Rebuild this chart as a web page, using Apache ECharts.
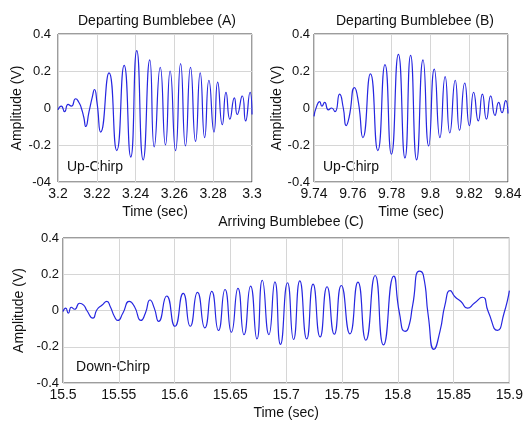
<!DOCTYPE html>
<html><head><meta charset="utf-8">
<script src="https://cdn.jsdelivr.net/npm/echarts@6/dist/echarts.min.js"></script>
<style>html,body{margin:0;padding:0;background:#fff}#c{width:526px;height:421px}</style>
</head><body><div id="c"></div>
<script>
// ---- Panel A: Departing Bumblebee (A) ----
const timeA = [3.2000,3.2017,3.2034,3.2052,3.2069,3.2091,3.2108,3.2120,3.2133,3.2143,3.2160,3.2177,3.2188,3.2201,3.2220,3.2263,3.2303,3.2341,3.2375,3.2406,3.2439,3.2473,3.2496,3.2527,3.2554,3.2578,3.2606,3.2632,3.2657,3.2683,3.2709,3.2733,3.2756,3.2778,3.2804,3.2823,3.2847,3.2866,3.2886,3.2909,3.2924,3.2950,3.2967,3.2990,3.3000];
const ampA = [-0.01,0.01,-0.02,0.02,0.01,0.05,0.03,0.0,-0.05,-0.10,-0.02,0.06,0.10,0.03,-0.13,0.19,-0.23,0.23,-0.265,0.31,-0.28,0.26,-0.21,0.22,-0.20,0.20,-0.23,0.24,-0.205,0.22,-0.18,0.19,-0.16,0.15,-0.13,0.14,-0.09,0.085,-0.06,0.055,-0.035,0.065,-0.07,0.085,-0.035];
const xTicksA = ['3.2','3.22','3.24','3.26','3.28','3.3'];
const yTicksA = ['-04','-0.2','0','0.2','0.4'];

// ---- Panel B: Departing Bumblebee (B) ----
const timeB = [9.7400,9.7414,9.7429,9.7441,9.7455,9.7474,9.7491,9.7508,9.7532,9.7551,9.7566,9.7581,9.7609,9.7629,9.7652,9.7691,9.7729,9.7766,9.7799,9.7835,9.7869,9.7898,9.7929,9.7962,9.7991,9.8020,9.8049,9.8076,9.8100,9.8128,9.8150,9.8177,9.8201,9.8223,9.8247,9.8268,9.8289,9.8311,9.8333,9.8352,9.8369,9.8388,9.8400];
const ampB = [-0.045,0.01,0.035,0.01,0.03,-0.01,0.0,-0.02,0.075,0.0,-0.095,-0.05,0.11,0.03,-0.16,0.185,-0.23,0.235,-0.25,0.29,-0.27,0.285,-0.28,0.26,-0.205,0.21,-0.16,0.17,-0.135,0.15,-0.12,0.135,-0.095,0.085,-0.07,0.075,-0.06,0.065,-0.04,0.03,-0.025,0.04,-0.03];
const xTicksB = ['9.74','9.76','9.78','9.8','9.82','9.84'];
const yTicksB = ['-0.4','-0.2','0','0.2','0.4'];

// ---- Panel C: Arriving Bumblebee (C) ----
const timeC = [15.5000,15.5024,15.5048,15.5074,15.5104,15.5149,15.5185,15.5214,15.5268,15.5304,15.5351,15.5393,15.5423,15.5461,15.5491,15.5536,15.5595,15.5640,15.5699,15.5738,15.5780,15.5818,15.5857,15.5929,15.6003,15.6077,15.6140,15.6205,15.6271,15.6333,15.6393,15.6452,15.6509,15.6568,15.6622,15.6681,15.6738,15.6786,15.6845,15.6899,15.6949,15.7012,15.7066,15.7122,15.7184,15.7241,15.7304,15.7366,15.7431,15.7494,15.7571,15.7643,15.7714,15.7797,15.7872,15.7964,15.8015,15.8065,15.8095,15.8134,15.8193,15.8229,15.8274,15.8324,15.8378,15.8423,15.8470,15.8512,15.8566,15.8625,15.8685,15.8759,15.8810,15.8893,15.8952,15.9000];
const ampC = [-0.005,0.013,-0.015,0.018,0.007,0.04,0.03,0.0,-0.042,0.004,0.03,0.05,0.022,-0.033,-0.055,-0.015,0.05,0.022,-0.055,-0.015,0.058,0.013,-0.06,0.08,-0.087,0.095,-0.087,0.10,-0.096,0.105,-0.11,0.116,-0.12,0.122,-0.133,0.135,-0.157,0.167,-0.133,0.158,-0.187,0.153,-0.16,0.164,-0.157,0.146,-0.146,0.131,-0.131,0.138,-0.129,0.157,-0.164,0.193,-0.19,0.19,-0.015,-0.115,-0.096,0.031,0.217,0.195,-0.033,-0.215,-0.115,0.031,0.11,0.076,0.05,0.013,0.04,0.073,-0.005,-0.11,-0.015,0.11];
const xTicksC = ['15.5','15.55','15.6','15.65','15.7','15.75','15.8','15.85','15.9'];
const yTicksC = ['-0.4','-0.2','0','0.2','0.4'];

const titles = ['Departing Bumblebee (A)','Departing Bumblebee (B)','Arriving Bumblebee (C)'];
const notes = ['Up-Chirp','Up-Chirp','Down-Chirp'];

const FONT = 'Liberation Sans, Arial, sans-serif';
const TXT = '#111';
const zip = (t, a) => t.map((v, i) => [v, a[i]]);

function xAx(idx, min, max, step, labels, fs, margin) {
  return {
    gridIndex: idx, type: 'value', min: min, max: max, interval: step,
    axisLine: {show: false}, axisTick: {show: false},
    splitLine: {show: true, lineStyle: {color: '#d6d6d6', width: 1}},
    axisLabel: {formatter: v => labels[Math.round((v - min) / step)], fontSize: fs, color: TXT, fontFamily: FONT, margin: margin},
    name: 'Time (sec)', nameLocation: 'middle', nameGap: 23,
    nameTextStyle: {fontSize: 14, color: TXT, fontFamily: FONT}
  };
}
function yAx(idx, labels, margin, gap) {
  return {
    gridIndex: idx, type: 'value', min: -0.4, max: 0.4, interval: 0.2,
    axisLine: {show: false}, axisTick: {show: false},
    splitLine: {show: true, lineStyle: {color: '#d6d6d6', width: 1}},
    axisLabel: {formatter: v => labels[Math.round((v + 0.4) / 0.2)], fontSize: 13, color: TXT, fontFamily: FONT, margin: margin},
    name: 'Amplitude (V)', nameLocation: 'middle', nameGap: gap, nameRotate: 90,
    nameTextStyle: {fontSize: 14, color: TXT, fontFamily: FONT}
  };
}
function ser(idx, data) {
  return {
    type: 'line', xAxisIndex: idx, yAxisIndex: idx, data: data, showSymbol: false,
    smooth: 0.6, lineStyle: {color: '#2626e0', width: 1.2}, animation: false
  };
}
function txt(x, y, s) {
  return {type: 'text', x: x, y: y, style: {text: s, align: 'center', verticalAlign: 'middle', fontSize: 14, fontFamily: FONT, fill: TXT}};
}

const chart = echarts.init(document.getElementById('c'), null, {renderer: 'canvas'});
chart.setOption({
  backgroundColor: '#fff',
  animation: false,
  grid: [
    {left: 58, top: 34, width: 194, height: 148, show: true, borderColor: '#3a3a3a', borderWidth: 1},
    {left: 314, top: 34, width: 194, height: 148, show: true, borderColor: '#3a3a3a', borderWidth: 1},
    {left: 63, top: 238, width: 450, height: 146, show: true, borderColor: '#3a3a3a', borderWidth: 1}
  ],
  xAxis: [
    xAx(0, 3.2, 3.3, 0.02, xTicksA, 14, 5),
    xAx(1, 9.74, 9.84, 0.02, xTicksB, 14, 5),
    xAx(2, 15.5, 15.9, 0.05, xTicksC, 14, 5)
  ],
  yAxis: [
    yAx(0, yTicksA, 7, 34),
    yAx(1, yTicksB, 4, 30),
    yAx(2, yTicksC, 4, 32)
  ],
  series: [ser(0, zip(timeA, ampA)), ser(1, zip(timeB, ampB)), ser(2, zip(timeC, ampC))],
  graphic: [
    txt(157, 21, titles[0]), txt(415, 21, titles[1]), txt(291, 222, titles[2]),
    txt(95, 167, notes[0]), txt(351, 167, notes[1]), txt(113, 367, notes[2])
  ]
});
</script></body></html>
